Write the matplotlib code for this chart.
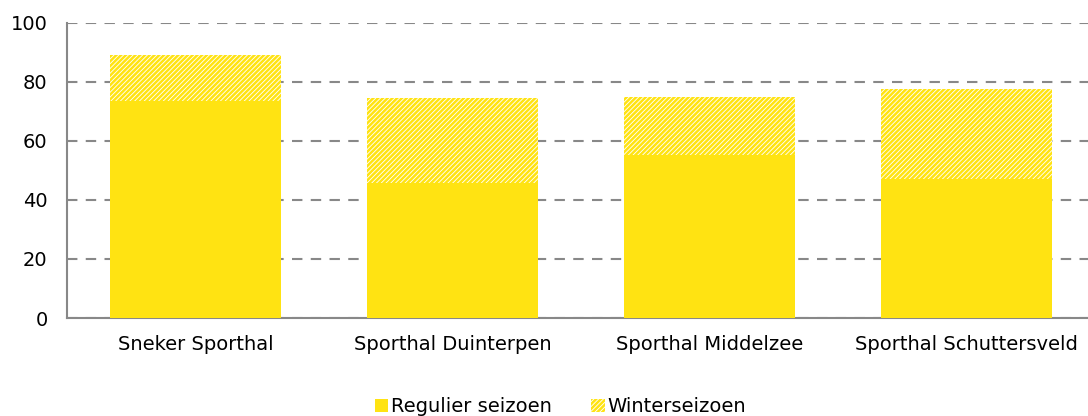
import matplotlib.pyplot as plt
import numpy as np

plt.rcParams['font.family'] = ['DejaVu Sans']
plt.rcParams['hatch.linewidth'] = 1.8

halls = ['Sneker Sporthal', 'Sporthal Duinterpen', 'Sporthal Middelzee', 'Sporthal Schuttersveld']
regulier = [73.5, 45.8, 55.3, 47.1]
winter = [15.6, 28.8, 19.6, 30.5]

yellow = '#FFE312'

fig = plt.figure(figsize=(10.88, 4.16), dpi=100)
ax = fig.add_axes([67 / 1088, (416 - 318) / 416, 1028 / 1088, 295 / 416])

x = np.arange(len(halls))
w = 0.665
ax.bar(x, regulier, w, color=yellow, linewidth=0, label='Regulier seizoen', zorder=3)
ax.bar(x, winter, w, bottom=regulier, facecolor='white', edgecolor=yellow,
       hatch='/' * 7, linewidth=0, label='Winterseizoen', zorder=3)

ax.set_xlim(-0.5, 3.5)
ax.set_ylim(0, 100)
ax.set_yticks([0, 20, 40, 60, 80, 100])
ax.set_xticks(x)
ax.set_xticklabels(halls)
ax.tick_params(length=0, labelsize=14, pad=14)
ax.tick_params(axis='x', pad=12)
ax.grid(axis='y', color='#888888', linestyle=(0, (5, 4)), linewidth=1.5, zorder=0)
for s in ['top', 'right']:
    ax.spines[s].set_visible(False)
for s in ['left', 'bottom']:
    ax.spines[s].set_color('#888888')
    ax.spines[s].set_linewidth(1.5)

fig.legend(loc='center', bbox_to_anchor=(0.515, 0.022), ncol=2, frameon=False,
           fontsize=14, handlelength=0.7, handleheight=0.7, handletextpad=0.15,
           columnspacing=2.0)

fig.savefig('out.png', dpi=100)
